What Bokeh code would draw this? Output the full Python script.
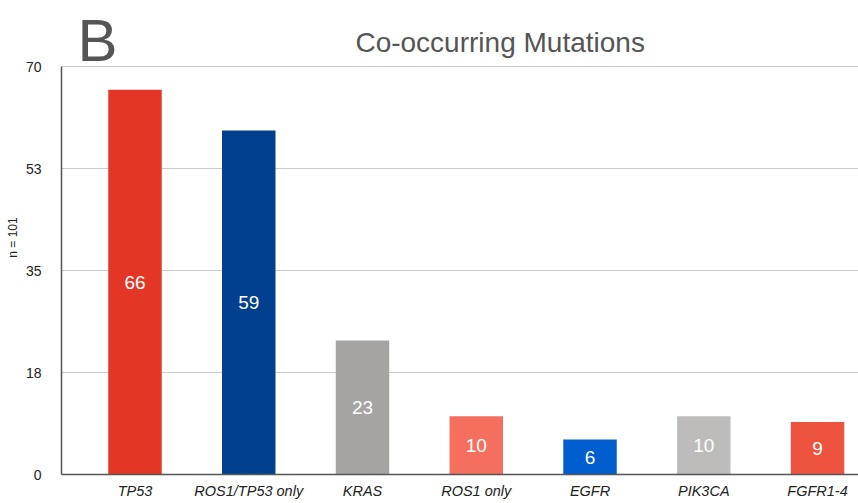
from bokeh.plotting import figure
from bokeh.models import ColumnDataSource, FixedTicker, Label, Range1d
from bokeh.embed import file_html
from bokeh.resources import INLINE

categories = ["TP53", "ROS1/TP53 only", "KRAS", "ROS1 only", "EGFR", "PIK3CA", "FGFR1-4"]
counts = [66, 59, 23, 10, 6, 10, 9]
colors = ["#E33625", "#01408F", "#A5A4A2", "#F46F5E", "#015ECF", "#BDBCBA", "#EE5340"]
y_ticks = [0, 17.5, 35, 52.5, 70]
y_tick_labels = ["0", "18", "35", "53", "70"]

FONT = "Liberation Sans"

idx = list(range(len(categories)))
src = ColumnDataSource(dict(x=idx, top=counts, color=colors,
                            mid=[c / 2 for c in counts],
                            lab=[str(c) for c in counts]))

Y_MAX = 70
Y_TOP = Y_MAX * 474 / 408  # room above the axis for the panel letter and title

p = figure(frame_width=797, frame_height=474, output_backend="svg", toolbar_location=None,
           x_range=Range1d(-0.646, 6.36), y_range=Range1d(0, Y_TOP),
           min_border_left=61, min_border_top=0, min_border_right=0, min_border_bottom=29)
p.outline_line_color = None
p.background_fill_color = "white"

p.vbar(x="x", top="top", width=0.47, color="color", line_color=None, source=src)
p.text(x="x", y="mid", text="lab", source=src, text_color="white", text_align="center",
       text_baseline="middle", text_font_size="19px", text_font={"value": FONT})

p.xaxis.ticker = FixedTicker(ticks=idx)
p.xaxis.major_label_overrides = {i: c for i, c in enumerate(categories)}
p.xaxis.major_label_text_font_style = "italic"
p.xaxis.major_label_text_font = FONT
p.xaxis.major_label_text_font_size = "14.5px"
p.xaxis.major_label_text_color = "#222222"
p.xaxis.major_tick_line_color = None
p.xaxis.minor_tick_line_color = None
p.xaxis.axis_line_color = "#555555"
p.xaxis.axis_line_width = 1.5
p.xaxis.major_label_standoff = 2

p.yaxis.ticker = FixedTicker(ticks=y_ticks)
p.yaxis.bounds = (0, Y_MAX)
p.yaxis.major_label_overrides = {t: l for t, l in zip(y_ticks, y_tick_labels)}
p.yaxis.major_label_text_font = FONT
p.yaxis.major_label_text_font_size = "14px"
p.yaxis.major_label_text_color = "#222222"
p.yaxis.major_tick_line_color = None
p.yaxis.minor_tick_line_color = None
p.yaxis.axis_line_color = "#555555"
p.yaxis.axis_line_width = 1.5
p.yaxis.major_label_standoff = 14
p.yaxis.axis_label = "n = 101"
p.yaxis.axis_label_text_font = FONT
p.yaxis.axis_label_text_font_style = "normal"
p.yaxis.axis_label_text_font_size = "12px"
p.yaxis.axis_label_text_color = "#222222"
p.yaxis.axis_label_standoff = 3

p.xgrid.grid_line_color = None
p.ygrid.grid_line_color = "#CCCCCC"
p.ygrid.grid_line_width = 1

p.add_layout(Label(x=3.21, y=74.1, text="Co-occurring Mutations", text_align="center",
                   text_baseline="middle", text_font=FONT, text_font_size="28px",
                   text_color="#555555"))
p.add_layout(Label(x=-0.33, y=74.5, text="B", text_align="center",
                   text_baseline="middle", text_font=FONT, text_font_size="60px",
                   text_color="#555555"))

open("out.html", "w").write(file_html(p, INLINE))
